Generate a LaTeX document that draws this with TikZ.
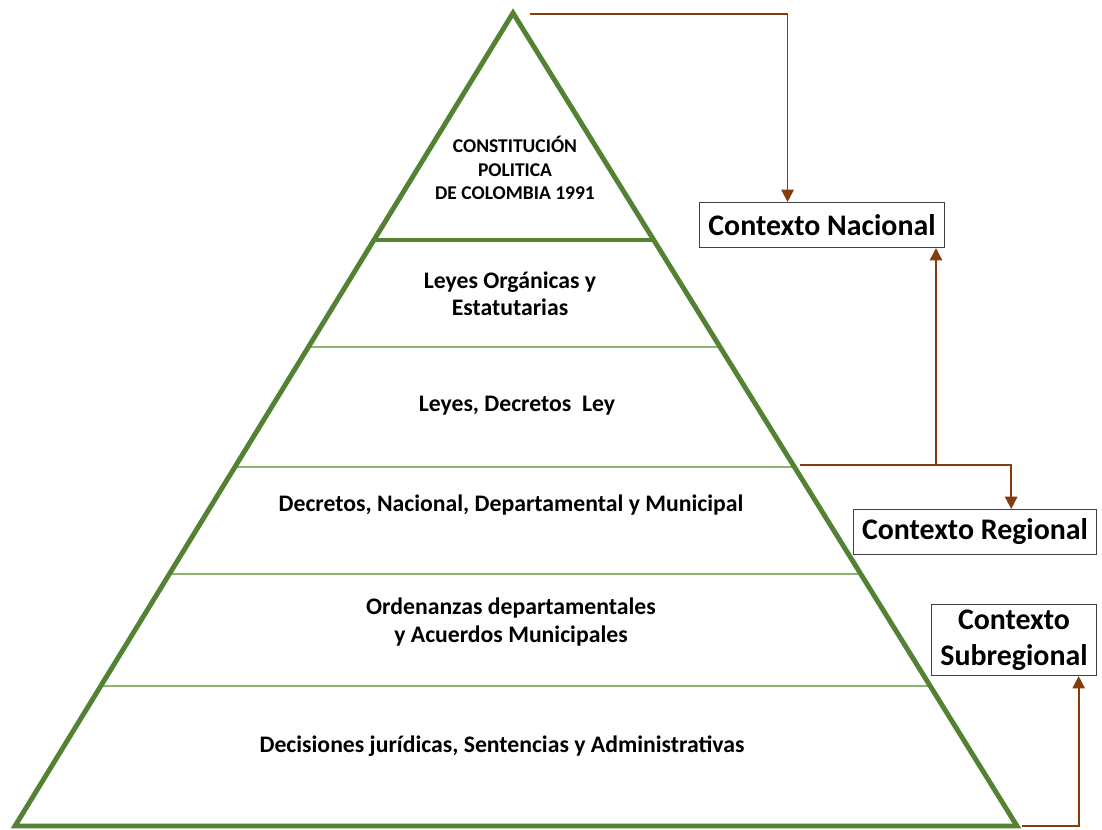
\documentclass[tikz,border=0pt]{standalone}
\usepackage{fontspec}
\setmainfont{Carlito}
\usetikzlibrary{
    arrows.meta,
    positioning,
    calc
}

\definecolor{leafgreen}{HTML}{548235}
\definecolor{palegreen}{HTML}{8DB56F}
\definecolor{rust}{HTML}{843C0C}

\begin{document}
\begin{tikzpicture}[
    x=0.02cm, y=-0.02cm,
    % pyramid outline and level separators
    outline/.style={
        draw=leafgreen,
        line width=2.8pt,
        line join=miter
    },
    level/.style={
        draw=palegreen,
        line width=0.7pt
    },
    % texts inside the pyramid
    tier/.style={
        font=\fontsize{13.5}{15.5}\selectfont\bfseries,
        text=black,
        align=center
    },
    apextext/.style={
        font=\fontsize{11.1}{13.5}\selectfont\bfseries,
        text=black,
        align=center
    },
    % context boxes on the right
    context/.style={
        draw=black!75,
        line width=0.6pt,
        fill=white,
        font=\fontsize{17}{20.5}\selectfont\bfseries,
        align=center,
        inner xsep=5pt,
        inner ysep=3pt,
        minimum height=0.9cm
    },
    link/.style={
        -{Triangle[length=7pt,width=7pt]},
        draw=rust,
        line width=1pt
    }
]
    % Fixed page size
    \fill[white] (0,0) rectangle (1102,829);
    \useasboundingbox (0,0) rectangle (1102,829);

    % Pyramid corners
    \coordinate (top) at (513,13);
    \coordinate (left) at (15,826);
    \coordinate (right) at (1017,826);

    % Level separators
    \draw[outline] ($(top)!227/813!(left)$) -- ($(top)!227/813!(right)$);
    \draw[level] ($(top)!334/813!(left)$) -- ($(top)!334/813!(right)$);
    \draw[level] ($(top)!454/813!(left)$) -- ($(top)!454/813!(right)$);
    \draw[level] ($(top)!561/813!(left)$) -- ($(top)!561/813!(right)$);
    \draw[level] ($(top)!673/813!(left)$) -- ($(top)!673/813!(right)$);

    % Outline on top
    \draw[outline] (top) -- (left) -- (right) -- cycle;

    % Tier labels
    \node[apextext] (constitucion) at (515,168) {CONSTITUCIÓN\\POLITICA\\DE COLOMBIA 1991};
    \node[tier] (organicas) at (510,294) {Leyes Orgánicas y\\Estatutarias};
    \node[tier] (leyes) at (517,406) {Leyes, Decretos\ \ Ley};
    \node[tier] (decretos) at (511,505) {Decretos, Nacional, Departamental y Municipal};
    \node[tier] (ordenanzas) at (511,622) {Ordenanzas departamentales\\y Acuerdos Municipales};
    \node[tier] (decisiones) at (502,746) {Decisiones jurídicas, Sentencias y Administrativas};

    % Context boxes
    \node[context] (nacional) at (822,225) {Contexto Nacional};
    \node[context] (regional) at (975,532) {Contexto Regional};
    \node[context] (subregional) at (1014,640) {Contexto\\Subregional};

    % Free ends of the connectors
    \coordinate (apexend) at (530,14);
    \coordinate (midend) at (800,465);
    \coordinate (branch) at (936,466);
    \coordinate (baseend) at (1022,826);

    % Connectors
    \draw[link] (apexend) -| ($(nacional.north west)!0.36!(nacional.north east)$);
    \draw[link] (midend) -| ($(regional.north west)!0.648!(regional.north east)$);
    \draw[link] (branch) -- (branch |- nacional.south);
    \draw[link] (baseend) -| ($(subregional.south west)!0.89!(subregional.south east)$);
\end{tikzpicture}
\end{document}
